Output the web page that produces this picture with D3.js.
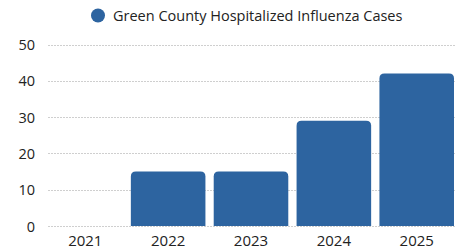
<!DOCTYPE html>
<html>
<head>
<meta charset="utf-8">
<script src="https://cdn.jsdelivr.net/npm/d3@7"></script>
<style>
body { margin:0; background:#fff; }
text { font-family: "Open Sans", sans-serif; fill:#222; }
</style>
</head>
<body>
<svg id="chart" width="457" height="251"></svg>
<script>
var years = ["2021", "2022", "2023", "2024", "2025"];
var cases = [0, 15, 15, 29, 42];
var yTicks = [0, 10, 20, 30, 40, 50];
var seriesName = "Green County Hospitalized Influenza Cases";

var barColor = "#2d64a0";

var svg = d3.select("#chart");

var x = d3.scaleBand().domain(years).range([48, 454]).paddingInner(0.1).paddingOuter(0);
var y = d3.scaleLinear().domain([0, 50]).range([226, 44.5]);

// grid
svg.append("g").selectAll("line")
    .data(yTicks)
    .enter()
    .append("line")
    .attr("x1", 48)
    .attr("x2", 455)
    .attr("y1", function(d) { return Math.round(y(d)) + 0.5; })
    .attr("y2", function(d) { return Math.round(y(d)) + 0.5; })
    .attr("stroke", "#cfcfcf")
    .attr("stroke-width", 1)
    .attr("stroke-dasharray", "2,1");

// y labels
var yAxis = d3.axisLeft(y).tickValues(yTicks).tickSize(0).tickPadding(0);
var ya = svg.append("g").attr("transform", "translate(35,0)").call(yAxis);
ya.select(".domain").remove();
ya.selectAll("text").style("font-size", "14.5px").attr("dy", "0.35em");

// bars, rounded top corners
svg.append("g").selectAll("path")
    .data(cases)
    .enter()
    .append("path")
    .attr("fill", barColor)
    .attr("d", function(d, i) {
        var x0 = x(years[i]), w = x.bandwidth(), y0 = y(d), y1 = y(0);
        if (y1 - y0 <= 0) return "";
        var r = Math.min(5, (y1 - y0) / 2);
        return "M" + x0 + "," + y1 +
            "V" + (y0 + r) +
            "Q" + x0 + "," + y0 + " " + (x0 + r) + "," + y0 +
            "H" + (x0 + w - r) +
            "Q" + (x0 + w) + "," + y0 + " " + (x0 + w) + "," + (y0 + r) +
            "V" + y1 + "Z";
    });

// x labels
var xAxis = d3.axisBottom(x).tickSize(0).tickPadding(0);
var xa = svg.append("g").attr("transform", "translate(0,232)").call(xAxis);
xa.select(".domain").remove();
xa.selectAll("text").style("font-size", "15px").attr("dy", "0.9em");

// legend
svg.append("circle").attr("cx", 98).attr("cy", 15.5).attr("r", 7).attr("fill", barColor);
svg.append("text").attr("x", 113).attr("y", 20.5).style("font-size", "14.5px").text(seriesName);
</script>
</body>
</html>
